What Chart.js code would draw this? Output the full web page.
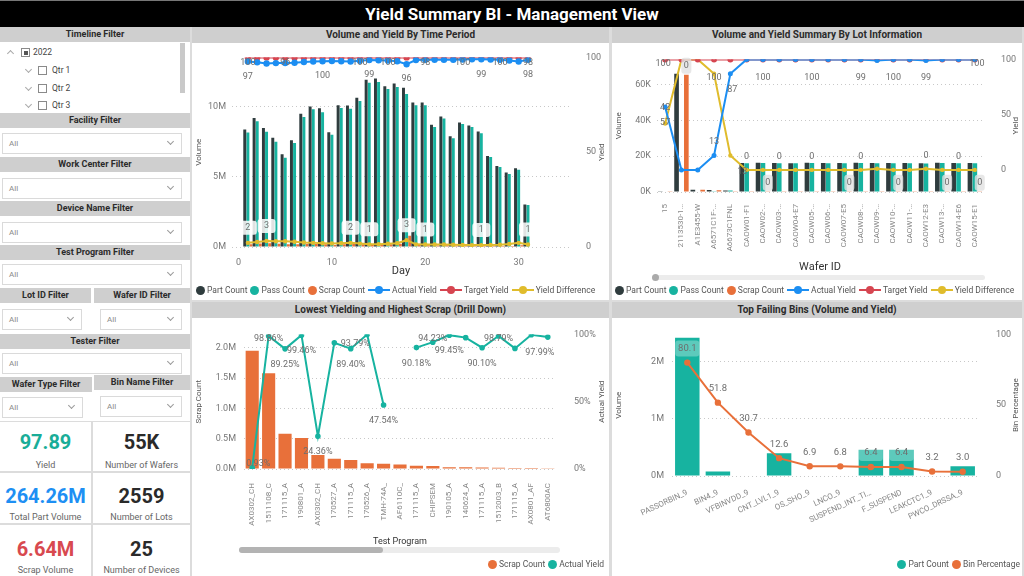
<!DOCTYPE html>
<html><head><meta charset="utf-8">
<title>Yield Summary BI - Management View</title>
<script src="https://cdn.jsdelivr.net/npm/chart.js@4.4.1/dist/chart.umd.min.js"></script>
<style>
*{box-sizing:border-box}
html,body{margin:0;padding:0}
body{width:1024px;height:576px;overflow:hidden;background:#dcdcdc;position:relative;font-family:Roboto,'Open Sans',sans-serif;color:#333}
.panel{position:absolute;background:#fff}
.hdr{position:absolute;background:#cfcfcf;color:#2b2b2b;font-weight:700;font-size:9px;text-align:center;height:15px;line-height:15px;white-space:nowrap}
.chd{position:absolute;background:#cfcfcf;color:#2b2b2b;font-weight:700;font-size:10px;text-align:center;height:16px;line-height:16px;white-space:nowrap}
.dd{position:absolute;background:#fff;border:1px solid #dadada;height:21px;font-size:8px;color:#8a8a8a;line-height:19px;padding-left:6px}
.dd i{position:absolute;right:8px;top:5px;width:5px;height:5px;border-right:1px solid #9a9a9a;border-bottom:1px solid #9a9a9a;transform:rotate(45deg)}
.tr{position:absolute;font-size:8.5px;color:#444;height:12px;line-height:12px;white-space:nowrap}
.chev{position:absolute;width:5px;height:5px;border-left:1px solid #aaa;border-top:1px solid #aaa}
.cb{position:absolute;width:9px;height:9px;border:1px solid #8a8a8a;background:#fff}
.kpi{position:absolute;background:#fff;text-align:center}
.kv{position:absolute;left:0;right:0;font-weight:700;font-size:20px;line-height:24px;white-space:nowrap}
.kl{position:absolute;left:0;right:0;font-size:9px;color:#666;line-height:11px;white-space:nowrap}
.lg{position:absolute;display:flex;align-items:center;font-size:8.5px;color:#555;white-space:nowrap;height:12px}
.lg .dot{display:inline-block;width:9px;height:9px;border-radius:50%;margin-right:2px}
.lg .ln{display:inline-block;position:relative;width:22px;height:2px;margin-right:2px}
.lg .ln b{position:absolute;left:7px;top:-3.5px;width:8px;height:8px;border-radius:50%}
.lg .t{margin-right:3px}
canvas{position:absolute}
#title{position:absolute;left:0;top:0;width:1024px;height:27px;background:#000;color:#fff;font-weight:700;font-size:17px;text-align:center;line-height:27px;border-top:1px solid #777}
</style></head><body>
<div id="title">Yield Summary BI - Management View</div>

<!-- left filter column -->
<div class="panel" style="left:0;top:27px;width:190px;height:394px"></div>
<div class="hdr" style="left:0;top:27px;width:190px">Timeline Filter</div>
<div class="chev" style="left:8px;top:51px;transform:rotate(45deg)"></div>
<div class="cb" style="left:21px;top:48px"><div style="position:absolute;left:1.5px;top:1.5px;width:4px;height:4px;background:#555"></div></div>
<div class="tr" style="left:33px;top:46px">2022</div>
<div class="chev" style="left:26px;top:67px;transform:rotate(225deg)"></div>
<div class="cb" style="left:38px;top:66px"></div>
<div class="tr" style="left:52px;top:64px">Qtr 1</div>
<div class="chev" style="left:26px;top:85px;transform:rotate(225deg)"></div>
<div class="cb" style="left:38px;top:84px"></div>
<div class="tr" style="left:52px;top:82px">Qtr 2</div>
<div class="chev" style="left:26px;top:102px;transform:rotate(225deg)"></div>
<div class="cb" style="left:38px;top:101px"></div>
<div class="tr" style="left:52px;top:99px">Qtr 3</div>
<div style="position:absolute;left:180px;top:43px;width:5px;height:50px;background:#c9c9c9"></div>

<div class="hdr" style="left:0;top:113px;width:190px">Facility Filter</div>
<div class="dd" style="left:2px;top:133px;width:180px">All<i></i></div>
<div class="hdr" style="left:0;top:157px;width:190px">Work Center Filter</div>
<div class="dd" style="left:2px;top:178px;width:180px">All<i></i></div>
<div class="hdr" style="left:0;top:201px;width:190px">Device Name Filter</div>
<div class="dd" style="left:2px;top:222px;width:180px">All<i></i></div>
<div class="hdr" style="left:0;top:245px;width:190px">Test Program Filter</div>
<div class="dd" style="left:2px;top:264px;width:180px">All<i></i></div>
<div class="hdr" style="left:0;top:288px;width:91px">Lot ID Filter</div>
<div class="hdr" style="left:94px;top:288px;width:96px">Wafer ID Filter</div>
<div class="dd" style="left:2px;top:309px;width:80px">All<i></i></div>
<div class="dd" style="left:100px;top:309px;width:82px">All<i></i></div>
<div class="hdr" style="left:0;top:334px;width:190px">Tester Filter</div>
<div class="dd" style="left:2px;top:353px;width:180px">All<i></i></div>
<div class="hdr" style="left:0;top:377px;width:92px">Wafer Type Filter</div>
<div class="hdr" style="left:94px;top:375px;width:96px">Bin Name Filter</div>
<div class="dd" style="left:2px;top:397px;width:81px">All<i></i></div>
<div class="dd" style="left:100px;top:396px;width:82px">All<i></i></div>

<!-- KPI cards -->
<div class="kpi" style="left:0;top:422px;width:91px;height:49px"><div class="kv" style="top:8px;color:#19ad98">97.89</div><div class="kl" style="top:38px">Yield</div></div>
<div class="kpi" style="left:93px;top:422px;width:97px;height:49px"><div class="kv" style="top:8px;color:#2a2a2a">55K</div><div class="kl" style="top:38px">Number of Wafers</div></div>
<div class="kpi" style="left:0;top:473px;width:91px;height:50px"><div class="kv" style="top:11px;color:#1e8ff3">264.26M</div><div class="kl" style="top:39px">Total Part Volume</div></div>
<div class="kpi" style="left:93px;top:473px;width:97px;height:50px"><div class="kv" style="top:11px;color:#2a2a2a">2559</div><div class="kl" style="top:39px">Number of Lots</div></div>
<div class="kpi" style="left:0;top:525px;width:91px;height:51px"><div class="kv" style="top:12px;color:#d8494f">6.64M</div><div class="kl" style="top:40px">Scrap Volume</div></div>
<div class="kpi" style="left:93px;top:525px;width:97px;height:51px"><div class="kv" style="top:12px;color:#2a2a2a">25</div><div class="kl" style="top:40px">Number of Devices</div></div>

<!-- chart panels -->
<div class="panel" style="left:192px;top:27px;width:417px;height:273px"></div>
<div class="chd" style="left:192px;top:27px;width:417px">Volume and Yield By Time Period</div>
<div class="panel" style="left:612px;top:27px;width:410px;height:273px"></div>
<div class="chd" style="left:612px;top:27px;width:410px">Volume and Yield Summary By Lot Information</div>
<div class="panel" style="left:192px;top:302px;width:417px;height:274px"></div>
<div class="chd" style="left:192px;top:302px;width:417px">Lowest Yielding and Highest Scrap (Drill Down)</div>
<div class="panel" style="left:612px;top:302px;width:410px;height:274px"></div>
<div class="chd" style="left:612px;top:302px;width:410px">Top Failing Bins (Volume and Yield)</div>

<canvas id="c1" width="416" height="256" style="left:192px;top:44px"></canvas>
<canvas id="c2" width="410" height="256" style="left:612px;top:44px"></canvas>
<canvas id="c3" width="416" height="257" style="left:192px;top:319px"></canvas>
<canvas id="c4" width="410" height="257" style="left:612px;top:319px"></canvas>

<!-- scrollbars -->
<div style="position:absolute;left:652px;top:275px;width:333px;height:5px;border-radius:3px;background:#ececec"></div>
<div style="position:absolute;left:652px;top:274px;width:7px;height:7px;border-radius:50%;background:#aaa"></div>
<div style="position:absolute;left:239px;top:547px;width:321px;height:6px;border-radius:3px;background:#ececec"></div>
<div style="position:absolute;left:239px;top:547px;width:144px;height:6px;border-radius:3px;background:#b3b3b3"></div>

<!-- legends -->
<div class="lg" style="left:196px;top:284px">
<span class="dot" style="background:#2f3c3e"></span><span class="t">Part Count</span>
<span class="dot" style="background:#17b3a0"></span><span class="t">Pass Count</span>
<span class="dot" style="background:#e8703a"></span><span class="t">Scrap Count</span>
<span class="ln" style="background:#1c8ef2"><b style="background:#1c8ef2"></b></span><span class="t">Actual Yield</span>
<span class="ln" style="background:#d64550"><b style="background:#d64550"></b></span><span class="t">Target Yield</span>
<span class="ln" style="background:#e0bc2c"><b style="background:#e0bc2c"></b></span><span>Yield Difference</span>
</div>
<div class="lg" style="left:615px;top:284px">
<span class="dot" style="background:#2f3c3e"></span><span class="t">Part Count</span>
<span class="dot" style="background:#17b3a0"></span><span class="t">Pass Count</span>
<span class="dot" style="background:#e8703a"></span><span class="t">Scrap Count</span>
<span class="ln" style="background:#1c8ef2"><b style="background:#1c8ef2"></b></span><span class="t">Actual Yield</span>
<span class="ln" style="background:#d64550"><b style="background:#d64550"></b></span><span class="t">Target Yield</span>
<span class="ln" style="background:#e0bc2c"><b style="background:#e0bc2c"></b></span><span>Yield Difference</span>
</div>
<div class="lg" style="right:420px;top:558px">
<span class="dot" style="background:#e8703a"></span><span class="t">Scrap Count</span>
<span class="dot" style="background:#17b3a0"></span><span>Actual Yield</span>
</div>
<div class="lg" style="right:4px;top:558px">
<span class="dot" style="background:#17b3a0"></span><span class="t">Part Count</span>
<span class="dot" style="background:#e8703a"></span><span>Bin Percentage</span>
</div>

<script>
// ---------- data: Volume and Yield By Time Period (volumes in millions) ----------
const days = [1,2,3,4,5,6,7,8,9,10,11,12,13,14,15,16,17,18,19,20,21,22,23,24,25,26,27,28,29,30,31];
const dayPartCountM = [8.36,9.18,8.47,7.77,6.60,7.60,9.49,10.0,9.88,8.17,10.1,10.07,10.63,11.9,12.0,11.45,11.64,11.34,10.28,10.28,8.70,9.30,7.89,8.87,8.66,8.22,6.48,5.77,5.30,5.60,3.03];
const dayPassCountM = [8.15,8.95,8.20,7.50,6.35,7.40,9.25,9.80,9.60,8.00,9.90,9.85,10.4,11.7,11.75,11.25,11.4,10.9,10.1,10.1,8.55,9.15,7.75,8.75,8.55,8.10,6.40,5.70,5.20,5.50,2.99];
const dayScrapCountM = [0.20,0.25,0.27,0.23,0.20,0.20,0.23,0.22,0.20,0.15,0.20,0.22,0.19,0.17,0.18,0.20,0.23,0.80,0.18,0.13,0.11,0.12,0.09,0.09,0.08,0.08,0.07,0.07,0.08,0.12,0.04];
const dayActualYield = [97.8,97.4,96.8,97.0,97.0,97.2,97.6,97.8,98.0,98.1,98.0,97.8,98.2,98.6,98.5,98.3,98.0,96.4,98.6,98.7,98.7,98.7,98.8,98.9,99.0,99.0,98.9,98.8,98.4,97.8,98.7];
const dayTargetYield = [100,100,100,100,100,100,100,100,100,100,100,100,100,100,100,100,100,100,100,100,100,100,100,100,100,100,100,100,100,100,100];
const dayYieldDiff = [2.2,2.6,3.2,3.0,3.0,2.8,2.4,2.2,2.0,1.9,2.0,2.2,1.8,1.4,1.5,1.7,2.0,3.6,1.4,1.3,1.3,1.3,1.2,1.1,1.0,1.0,1.1,1.2,1.6,2.2,1.3];
const dayTargetLabelIdx = [0,4,12,15,19,23,27,30];
const dayTargetLabelText = ['100','96','100','100','98','100','100','98'];
const dayActualLabelIdx = [0,8,13,17,25,30];
const dayActualLabelText = ['97','100','99','96','99','98'];
const dayDiffLabelIdx = [0,2,11,13,17,19,25,30];
const dayDiffLabelText = ['2','3','2','1','3','1','1','1'];

// ---------- data: Volume and Yield Summary By Lot Information (volumes in thousands) ----------
const waferIds = ['15','2113530-1…','A1E3455-W','A6571C1F-…','A6673C1FNL','CAOW01-F1','CAOW02-…','CAOW03-…','CAOW04-E7','CAOW05-…','CAOW06-…','CAOW07-E5','CAOW08-…','CAOW09-…','CAOW10-…','CAOW11-…','CAOW12-E3','CAOW13-…','CAOW14-E6','CAOW15-E1'];
const lotPartCountK = [0.4,66,1.2,1.1,0.9,16.2,16.3,16.2,16.1,16.3,16.2,16.2,16.3,16.2,16.2,16.2,16.1,16.3,16.2,16.2];
const lotPassCountK = [0.25,0,0,0.15,0.8,16.1,16.2,16.1,16.0,16.2,16.1,16.1,16.2,16.0,16.1,16.1,15.9,16.2,16.1,16.1];
const lotScrapCountK = [0.15,65.5,1.2,0.95,0.1,0.1,0.1,0.1,0.1,0.1,0.1,0.1,0.1,0.2,0.1,0.1,0.2,0.1,0.1,0.1];
const lotActualYield = [57,0,0,13,87,100,100,100,100,100,100,100,100,99,100,100,99,100,100,100];
const lotTargetYield = [100,100,100,100,100,100,100,100,100,100,100,100,100,100,100,100,100,100,100,100];
const lotYieldDiff = [42,100,100,87,13,0,0,0,0,0,0,0,0,1,0,0,1,0,0,0];
const lotTargetLabelIdx = [0,3,6,9,12,14,16,19];
const lotTargetLabelText = ['100','100','100','100','99','100','99','100'];
const lotActualLabelIdx = [0,3,4];
const lotActualLabelText = ['57','13','87'];
const lotDiffLabelIdx = [0,4,5,7,9,12,16,18];
const lotDiffLabelText = ['42','13','0','0','0','0','0','0'];
const lotScrapLabelIdx = [1,6,11,14,17,19];
const lotScrapLabelText = ['0','0','0','0','0','0'];

// ---------- data: Lowest Yielding and Highest Scrap (scrap in millions) ----------
const testPrograms = ['AX0302_CH','1511108_C','171115_A','190801_A','AX0302_CH','170527_A','171115_A','170526_A','TMH-74A_','AF6110C_','171115_A','CHIPSEM','190105_A','140624_A','171115_A','1512003_B','171115_A','AX0801_AF','AT6800AC'];
const programScrapM = [1.95,1.58,0.58,0.51,0.23,0.17,0.15,0.095,0.085,0.075,0.055,0.05,0.03,0.028,0.025,0.02,0.018,0.015,0.012];
const programYield = [0.93,98.86,89.25,99.46,24.36,93.79,89.40,99.90,47.54,null,90.18,94.23,99.45,97.60,90.10,98.79,89.60,99.70,97.99];
const programLabelIdx = [0,1,2,3,4,5,6,8,10,11,12,14,15,18];

// ---------- data: Top Failing Bins (volume in millions) ----------
const binNames = ['PASSORBIN_9','BIN4_9','VFBINVDD_9','CNT_LVL1_9','OS_SHO_9','LNCO_9','SUSPEND_INT_TI…','F_SUSPEND','LEAKCTC1_9','PWCO_DRSSA_9'];
const binPartCountM = [2.42,0.08,0.01,0.40,0.01,0.01,0.46,0.46,0.01,0.17];
const binPercentage = [80.1,51.8,30.7,12.6,6.9,6.8,6.4,6.4,3.2,3.0];

// ---------- styling ----------
const C_DARK='#2f3c3e', C_TEAL='#17b3a0', C_ORANGE='#e8703a', C_BLUE='#1c8ef2', C_RED='#d64550', C_YEL='#e0bc2c';
Chart.defaults.font.family = "Roboto, 'Open Sans', sans-serif";
Chart.defaults.font.size = 9;
Chart.defaults.color = '#777';
Chart.defaults.animation = false;
Chart.defaults.devicePixelRatio = 1;

// data labels drawn next to points / bars
const dlPlugin = {
  id: 'dl',
  afterDatasetsDraw(chart) {
    const ctx = chart.ctx;
    chart.data.datasets.forEach((ds, di) => {
      const s = ds.dl;
      if (!s) return;
      const meta = chart.getDatasetMeta(di);
      s.idx.forEach((ix, k) => {
        const el = meta.data[ix];
        if (!el || el.skip) return;
        const txt = s.text[k];
        const o = (s.off && s.off[ix]) || [0, s.dy || 0];
        const x = el.x + o[0], y = el.y + o[1];
        ctx.save();
        ctx.font = (s.size || 9) + "px Roboto, sans-serif";
        ctx.textAlign = 'center';
        ctx.textBaseline = 'middle';
        if (s.box && (!s.boxIdx || s.boxIdx.includes(ix))) {
          const w = s.bw || ctx.measureText(txt).width + 10, h = s.bh || 14;
          ctx.fillStyle = s.box;
          ctx.beginPath();
          if (ctx.roundRect) ctx.roundRect(x - w / 2, y - h / 2, w, h, 3); else ctx.rect(x - w / 2, y - h / 2, w, h);
          ctx.fill();
        }
        ctx.fillStyle = s.color || '#6e6e6e';
        ctx.fillText(txt, x, y);
        ctx.restore();
      });
    });
  }
};
// right-axis title read bottom-to-top (as in the original)
const rTitlePlugin = {
  id: 'rtitle',
  afterDraw(chart, args, opts) {
    if (!opts || !opts.text) return;
    const s = chart.scales.y1, ctx = chart.ctx;
    ctx.save();
    ctx.translate(s.right - 6, (chart.chartArea.top + chart.chartArea.bottom) / 2);
    ctx.rotate(-Math.PI / 2);
    ctx.font = "8px Roboto, sans-serif";
    ctx.fillStyle = '#555';
    ctx.textAlign = 'center';
    ctx.textBaseline = 'middle';
    ctx.fillText(opts.text, 0, 0);
    ctx.restore();
  }
};
Chart.register(dlPlugin, rTitlePlugin);

const W = w => s => { s.width = w; };
const H = h => s => { s.height = h; };
const gridY = { color: '#c8c8c8', drawTicks: false };
const borderY = { display: false, dash: [1, 3] };
const axTitle = t => ({ display: true, text: t, color: '#555', font: { size: 8 }, padding: 2 });
const xy = (xs, ys) => xs.map((x, i) => ({ x: x, y: ys[i] }));

// Chart 1
new Chart(document.getElementById('c1'), {
  type: 'bar',
  data: { datasets: [
    { type: 'line', label: 'Actual Yield', data: xy(days, dayActualYield), yAxisID: 'y1', borderColor: C_BLUE, backgroundColor: C_BLUE, borderWidth: 2, pointRadius: 2.2, order: 0,
      dl: { idx: dayActualLabelIdx, text: dayActualLabelText, dy: 15 } },
    { type: 'line', label: 'Target Yield', data: xy(days, dayTargetYield), yAxisID: 'y1', borderColor: C_RED, backgroundColor: C_RED, borderWidth: 2, pointRadius: 2.2, order: 0,
      dl: { idx: dayTargetLabelIdx, text: dayTargetLabelText, dy: 5 } },
    { type: 'line', label: 'Yield Difference', data: xy(days, dayYieldDiff), yAxisID: 'y1', borderColor: C_YEL, backgroundColor: C_YEL, borderWidth: 2, pointRadius: 1.2, order: 0,
      dl: { idx: dayDiffLabelIdx, text: dayDiffLabelText, dy: -15, box: 'rgba(255,255,255,0.85)', bw: 18, bh: 14 } },
    { label: 'Part Count', data: xy(days, dayPartCountM), backgroundColor: C_DARK, order: 1 },
    { label: 'Pass Count', data: xy(days, dayPassCountM), backgroundColor: C_TEAL, order: 1 },
    { label: 'Scrap Count', data: xy(days, dayScrapCountM), backgroundColor: C_ORANGE, order: 1 }
  ] },
  options: {
    responsive: false,
    datasets: { bar: { categoryPercentage: 1.0, barPercentage: 0.95 } },
    layout: { padding: { top: 10, bottom: 20, left: 0, right: 0 } },
    plugins: { legend: { display: false }, tooltip: { enabled: false }, rtitle: { text: 'Yield' } },
    scales: {
      x: { type: 'linear', min: -0.7, max: 35.5, offset: false, grid: { display: false }, border: { display: false },
           ticks: { stepSize: 10, includeBounds: false, padding: 2 },
           title: { display: true, text: 'Day', color: '#333', font: { size: 11 }, padding: 2 }, afterFit: H(33) },
      y: { min: 0, max: 13.5, ticks: { stepSize: 5, includeBounds: false, padding: 6, callback: v => v + 'M' }, grid: gridY, border: borderY, title: axTitle('Volume'), afterFit: W(40) },
      y1: { position: 'right', min: 0, max: 100, ticks: { stepSize: 50, includeBounds: false, padding: 8 }, grid: { display: false }, border: { display: false }, afterFit: W(38) }
    }
  }
});

// Chart 2
new Chart(document.getElementById('c2'), {
  type: 'bar',
  data: { labels: waferIds, datasets: [
    { type: 'line', label: 'Actual Yield', data: lotActualYield, yAxisID: 'y1', borderColor: C_BLUE, backgroundColor: C_BLUE, borderWidth: 2, pointRadius: 1.5, order: 0,
      dl: { idx: lotActualLabelIdx, text: lotActualLabelText, off: { 0: [0, 16], 3: [0, -14], 4: [2, 16] } } },
    { type: 'line', label: 'Target Yield', data: lotTargetYield, yAxisID: 'y1', borderColor: C_RED, backgroundColor: C_RED, borderWidth: 2, pointRadius: 2, order: 0,
      dl: { idx: lotTargetLabelIdx, text: lotTargetLabelText, dy: 18, off: { 0: [-2, 4], 19: [2, 4] } } },
    { type: 'line', label: 'Yield Difference', data: lotYieldDiff, yAxisID: 'y1', borderColor: C_YEL, backgroundColor: C_YEL, borderWidth: 2, pointRadius: 1.2, order: 0,
      dl: { idx: lotDiffLabelIdx, text: lotDiffLabelText, dy: -13, off: { 0: [0, -16], 4: [12, 16] } } },
    { label: 'Part Count', data: lotPartCountK, backgroundColor: C_DARK, order: 1 },
    { label: 'Pass Count', data: lotPassCountK, backgroundColor: C_TEAL, order: 1 },
    { label: 'Scrap Count', data: lotScrapCountK, backgroundColor: C_ORANGE, order: 1,
      dl: { idx: lotScrapLabelIdx, text: lotScrapLabelText, dy: -9, box: 'rgba(225,225,225,0.8)', bw: 10, bh: 16 } }
  ] },
  options: {
    responsive: false,
    datasets: { bar: { categoryPercentage: 0.9, barPercentage: 0.95 } },
    layout: { padding: { top: 10, bottom: 24, left: 0, right: 0 } },
    plugins: { legend: { display: false }, tooltip: { enabled: false }, rtitle: { text: 'Yield' } },
    scales: {
      x: { grid: { display: false }, border: { display: false },
           ticks: { autoSkip: false, minRotation: 90, maxRotation: 90, font: { size: 8 }, color: '#888', padding: 4 },
           title: { display: true, text: 'Wafer ID', color: '#333', font: { size: 11 }, padding: 2 }, afterFit: H(84) },
      y: { min: 0, max: 74, ticks: { stepSize: 20, includeBounds: false, padding: 6, callback: v => v + 'K' }, grid: gridY, border: borderY, title: axTitle('Volume'), afterFit: W(45) },
      y1: { position: 'right', min: -20, max: 100, ticks: { stepSize: 50, padding: 10, includeBounds: false }, grid: { display: false }, border: { display: false }, afterFit: W(39) }
    }
  }
});

// Chart 3
new Chart(document.getElementById('c3'), {
  type: 'bar',
  data: { labels: testPrograms, datasets: [
    { type: 'line', label: 'Actual Yield', data: programYield, yAxisID: 'y1', borderColor: C_TEAL, backgroundColor: C_TEAL, borderWidth: 2, pointRadius: 1.8, spanGaps: false, order: 0,
      dl: { idx: programLabelIdx, text: programLabelIdx.map(i => programYield[i].toFixed(2) + '%'), dy: 16,
            off: { 0: [6, -4], 1: [0, 3], 5: [21, 1], 11: [0, -3], 15: [0, 3], 18: [-8, 16] } } },
    { label: 'Scrap Count', data: programScrapM, backgroundColor: C_ORANGE, order: 1 }
  ] },
  options: {
    responsive: false,
    datasets: { bar: { categoryPercentage: 0.8, barPercentage: 1.0 } },
    layout: { padding: { top: 9, bottom: 27, left: 0, right: 0 } },
    plugins: { legend: { display: false }, tooltip: { enabled: false }, rtitle: { text: 'Actual Yield' } },
    scales: {
      x: { grid: { display: false }, border: { display: false },
           ticks: { autoSkip: false, minRotation: 90, maxRotation: 90, font: { size: 8 }, color: '#888', padding: 6 },
           title: { display: true, text: 'Test Program', color: '#333', font: { size: 9 }, padding: 2 }, afterFit: H(80) },
      y: { min: 0, max: 2.22, ticks: { stepSize: 0.5, includeBounds: false, padding: 8, callback: v => v.toFixed(1) + 'M' }, grid: gridY, border: borderY, title: axTitle('Scrap Count'), afterFit: W(52) },
      y1: { position: 'right', min: 0, max: 100, ticks: { stepSize: 50, includeBounds: false, padding: 10, callback: v => v + '%' }, grid: { display: false }, border: { display: false }, afterFit: W(52) }
    }
  }
});

// Chart 4
new Chart(document.getElementById('c4'), {
  type: 'bar',
  data: { labels: binNames, datasets: [
    { type: 'line', label: 'Bin Percentage', data: binPercentage, yAxisID: 'y1', borderColor: C_ORANGE, backgroundColor: C_ORANGE, borderWidth: 2, pointRadius: 2.2, order: 0,
      dl: { idx: [0,1,2,3,4,5,6,7,8,9], text: binPercentage.map(v => v.toFixed(1)), dy: -14, size: 9.5,
            box: 'rgba(255,255,255,0.3)', boxIdx: [0, 6, 7], bw: 24, bh: 16 } },
    { label: 'Part Count', data: binPartCountM, backgroundColor: C_TEAL, order: 1 }
  ] },
  options: {
    responsive: false,
    datasets: { bar: { categoryPercentage: 0.8, barPercentage: 1.0 } },
    layout: { padding: { top: 9, bottom: 20, left: 0, right: 0 } },
    plugins: { legend: { display: false }, tooltip: { enabled: false }, rtitle: { text: 'Bin Percentage' } },
    scales: {
      x: { grid: { display: false }, border: { display: false },
           ticks: { autoSkip: false, minRotation: 25, maxRotation: 25, font: { size: 8 }, color: '#888', padding: 4 }, afterFit: H(80) },
      y: { min: 0, max: 2.48, ticks: { stepSize: 1, includeBounds: false, padding: 8, callback: v => v + 'M' }, grid: gridY, border: borderY, title: axTitle('Volume'), afterFit: W(60) },
      y1: { position: 'right', min: 0, max: 100, ticks: { stepSize: 50, includeBounds: false, padding: 10 }, grid: { display: false }, border: { display: false }, afterFit: W(44) }
    }
  }
});
</script>
</body></html>
